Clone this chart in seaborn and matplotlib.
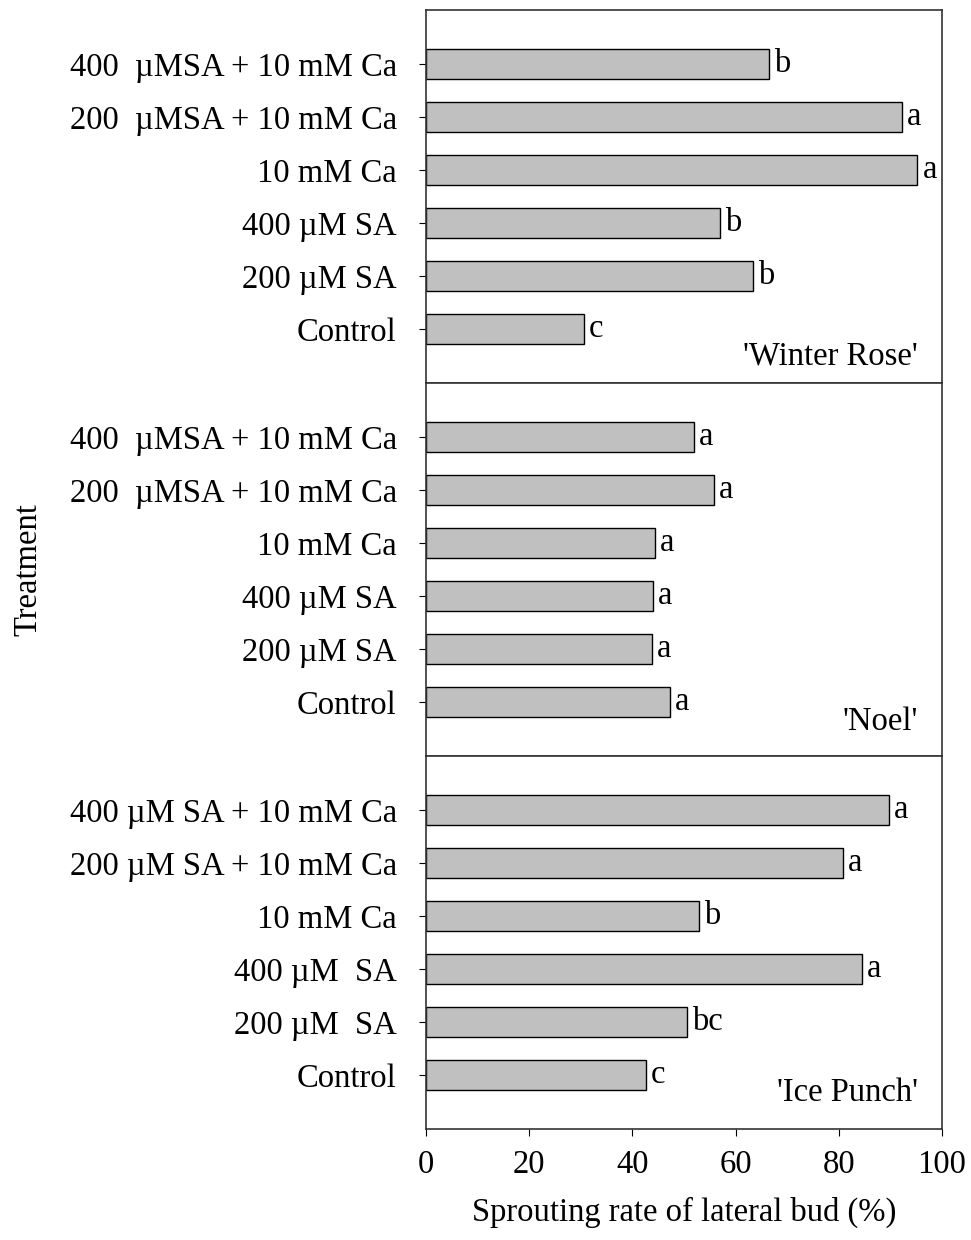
import numpy as np
import matplotlib.pyplot as plt
import seaborn as sns
import pandas as pd

sns.set_theme(style="white")
plt.rcParams["font.family"] = ["Liberation Serif", "DejaVu Serif"]
plt.rcParams["text.color"] = "black"
plt.rcParams["xtick.color"] = "black"
plt.rcParams["ytick.color"] = "black"
plt.rcParams["axes.labelcolor"] = "black"

# Treatments (top to bottom in each panel)
treatments = ["400 uM SA + 10 mM Ca", "200 uM SA + 10 mM Ca", "10 mM Ca",
              "400 uM SA", "200 uM SA", "Control"]

# tick labels as printed in each panel
labels_wr = ["400  µMSA + 10 mM Ca", "200  µMSA + 10 mM Ca", "10 mM Ca",
             "400 µM SA", "200 µM SA", "Control"]
labels_noel = ["400  µMSA + 10 mM Ca", "200  µMSA + 10 mM Ca", "10 mM Ca",
               "400 µM SA", "200 µM SA", "Control"]
labels_ip = ["400 µM SA + 10 mM Ca", "200 µM SA + 10 mM Ca", "10 mM Ca",
             "400 µM  SA", "200 µM  SA", "Control"]

# Sprouting rate of lateral bud (%)
winter_rose = [66.4, 92.2, 95.2, 57.0, 63.4, 30.6]
noel = [51.9, 55.8, 44.4, 44.0, 43.8, 47.3]
ice_punch = [89.7, 80.8, 52.9, 84.5, 50.6, 42.6]

# significance letters
letters_wr = ["b", "a", "a", "b", "b", "c"]
letters_noel = ["a", "a", "a", "a", "a", "a"]
letters_ip = ["a", "a", "b", "a", "bc", "c"]

cultivars = ["'Winter Rose'", "'Noel'", "'Ice Punch'"]

panels = [
    (winter_rose, letters_wr, labels_wr, cultivars[0], 0.072),
    (noel, letters_noel, labels_noel, cultivars[1], 0.092),
    (ice_punch, letters_ip, labels_ip, cultivars[2], 0.098),
]

fig = plt.figure(figsize=(9.71, 12.40), dpi=100)
left = 426 / 971
width = 516 / 971
h = 373 / 1240
tops = [10, 383, 756]

fs = 23.5
for i, (vals, lets, labs, name, ny) in enumerate(panels):
    bottom = 1 - (tops[i] + 373) / 1240
    ax = fig.add_axes([left, bottom, width, h])
    df = pd.DataFrame({"treatment": treatments, "rate": vals})
    sns.barplot(data=df, x="rate", y="treatment", order=treatments, orient="h",
                color="#c0c0c0", saturation=1, width=0.57,
                edgecolor="black", linewidth=1, ax=ax)
    ax.set_xlim(0, 100)
    ax.set_ylim(6.02, -1.02)
    ax.set_yticks(range(len(treatments)))
    ax.set_yticklabels(labs, fontsize=fs)
    ax.set_ylabel("")
    ax.set_xlabel("")
    for j, (v, l) in enumerate(zip(vals, lets)):
        ax.text(v + 1.0, j, l, va="center", ha="left", fontsize=fs)
    ax.text(0.953, ny, name, transform=ax.transAxes, ha="right", va="center",
            fontsize=fs)
    ax.tick_params(axis="y", direction="out", length=5, width=0.8,
                   pad=16, left=True)
    for s in ax.spines.values():
        s.set_color("#333333")
        s.set_linewidth(1.2)
    if i < 2:
        ax.tick_params(axis="x", bottom=False, labelbottom=False)
    else:
        ax.set_xticks([0, 20, 40, 60, 80, 100])
        ax.tick_params(axis="x", direction="out", length=5, width=0.8,
                       pad=10, bottom=True, labelsize=fs)
        ax.set_xlabel("Sprouting rate of lateral bud (%)", fontsize=fs,
                      labelpad=12)

fig.text(28 / 971, 1 - 570 / 1240, "Treatment", rotation=90, ha="center",
         va="center", fontsize=fs)

plt.savefig("out.png", dpi=100)
plt.close()
